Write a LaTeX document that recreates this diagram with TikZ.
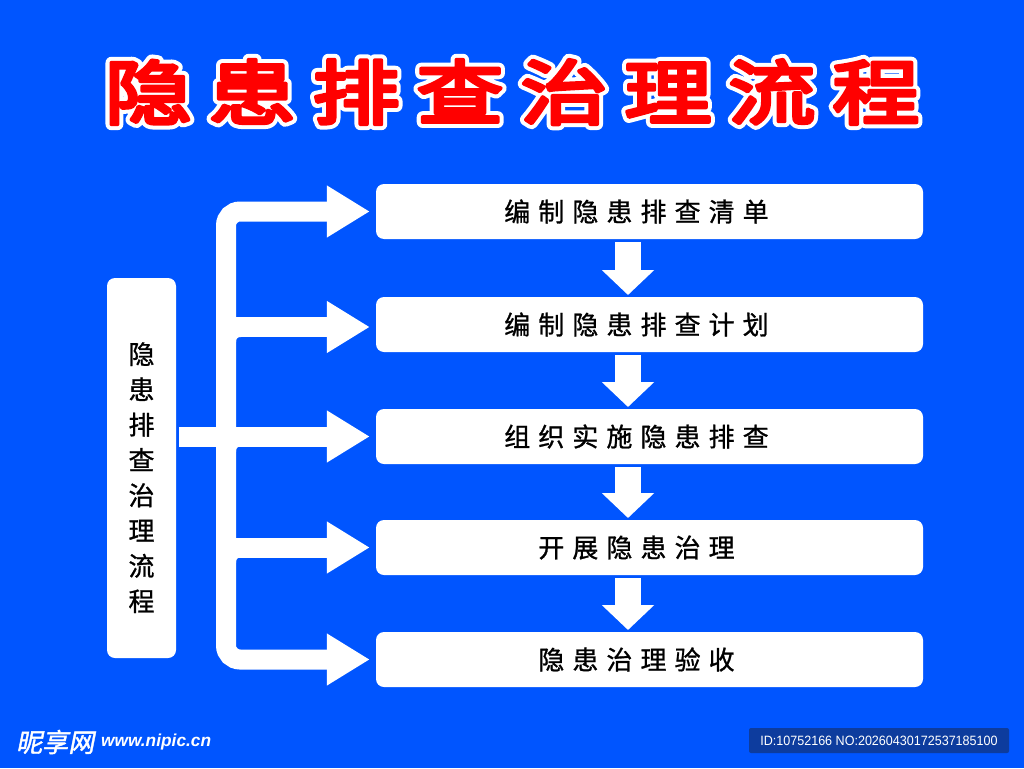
\documentclass[tikz,border=0pt]{standalone}
\usepackage{fontspec}
\usetikzlibrary{arrows.meta}
\setmainfont{Noto Sans CJK SC}
\newfontfamily\bodyfont[FakeBold=1,LetterSpace=31]{Noto Sans CJK SC}
\newfontfamily\sidefont[FakeBold=1]{Noto Sans CJK SC}
\newfontfamily\titlefont[LetterSpace=23.5,FakeStretch=1.25]{Noto Sans CJK SC}
\newfontfamily\wmcjk[FakeBold=1.5,FakeSlant=0.2]{Noto Sans CJK SC}
\newfontfamily\wmlat{Liberation Sans}
\newfontfamily\idfont[FakeStretch=0.93]{Liberation Sans}
\definecolor{bgblue}{HTML}{0055FF}
\definecolor{idblue}{HTML}{0D3C9E}
\tikzset{
 x=1pt,y=-1pt,
 stepbox/.style={fill=white,rounded corners=8pt,minimum width=547pt,minimum height=55pt,inner sep=0pt,text=black,font=\bodyfont\fontsize{26pt}{30pt}\selectfont},
 sidebox/.style={fill=white,rounded corners=8pt,minimum width=69pt,minimum height=380pt,inner sep=0pt,text=black,align=center,font=\sidefont\fontsize{26pt}{35.3pt}\selectfont},
 sidearrow/.style={draw=white,line width=20pt,-{Triangle[length=43pt,width=49pt,fill=white]},shorten >=6pt,rounded corners=14pt},
 downarrow/.style={draw=white,line width=26pt,-{Triangle[length=25pt,width=51pt,fill=white]},shorten >=2pt,shorten <=3pt},
}
\newcommand{\stepline}[1]{#1\hspace*{26pt}}
\newcommand{\fillet}[1]{\fill[white] (236,#1) -- (241,#1) .. controls (237.5,#1) and (236,#1+1.5) .. (236,#1+5) -- cycle;}
\begin{document}
\begin{tikzpicture}
\useasboundingbox (0,0) rectangle (1024,768);
\fill[bgblue] (0,0) rectangle (1024,768);
% title
\node[inner sep=0pt] (title) at (512,92) {\fontsize{70pt}{90pt}\titlefont\selectfont\rlap{\color{white}\special{pdf:code 2 Tr 12 w 1 j 1 J}隐患排查治理流程}{\color{red}\special{pdf:code 2 Tr 4 w 1 j 1 J}隐患排查治理流程}\special{pdf:code 0 Tr 1 w 0 j 0 J}};
% boxes
\node[sidebox] (side) at (141.5,468) {\rule{0pt}{41pt}隐\\患\\排\\查\\治\\理\\流\\程};
\node[stepbox] (b1) at (649.5,211.5) {\stepline{编制隐患排查清单}};
\node[stepbox] (b2) at (649.5,324.5) {\stepline{编制隐患排查计划}};
\node[stepbox] (b3) at (649.5,436.5) {\stepline{组织实施隐患排查}};
\node[stepbox] (b4) at (649.5,547.5) {\stepline{开展隐患治理}};
\node[stepbox] (b5) at (649.5,659.5) {\stepline{隐患治理验收}};
% bus
\coordinate (hub) at (226,436.5);
\coordinate (stub) at (179,436.5);
\coordinate (j2) at (226,327);
\coordinate (j4) at (226,547.5);
\draw[sidearrow] (hub) |- (b1.west);
\draw[sidearrow] (hub) |- (b5.west);
\draw[sidearrow] (j2) -- (j2 -| b2.west);
\draw[sidearrow] (stub) -- (b3.west);
\draw[sidearrow] (j4) -- (b4.west);
\fillet{337}
\fillet{446.5}
\fillet{557.5}
% down arrows
\draw[downarrow] (628,239) -- (628,297);
\draw[downarrow] (628,352) -- (628,409);
\draw[downarrow] (628,464) -- (628,520);
\draw[downarrow] (628,575) -- (628,632);
% footer
\node[anchor=west,inner sep=0pt,text=white] (wm) at (16,742) {\wmcjk\fontsize{26pt}{28pt}\selectfont 昵享网};
\node[anchor=west,inner sep=0pt,text=white] (wmurl) at (101,742) {\wmlat\bfseries\itshape\fontsize{17.3pt}{20pt}\selectfont www.nipic.cn};
\node[fill=idblue,rounded corners=2pt,minimum width=260pt,minimum height=25pt,inner sep=0pt,text=white] (idbox) at (879,740.5) {\idfont\fontsize{13.5pt}{16pt}\selectfont ID:10752166 NO:20260430172537185100};
\end{tikzpicture}
\end{document}
